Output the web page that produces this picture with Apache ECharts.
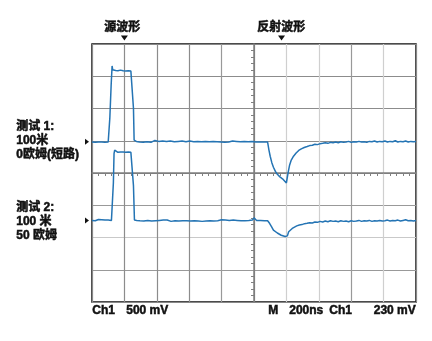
<!DOCTYPE html>
<html>
<head>
<meta charset="utf-8">
<script src="https://cdn.jsdelivr.net/npm/echarts@6/dist/echarts.min.js"></script>
<style>
  html, body { margin: 0; padding: 0; background: #fff; }
  #main { width: 432px; height: 341px; }
</style>
</head>
<body>
<div id="main"></div>
<script>
// screen divisions: x -5..5, y -4..4
const trace1 = [
  [-5.0, 0.96], [-4.95, 0.98], [-4.9, 0.95], [-4.85, 0.97], [-4.8, 0.96], [-4.75, 0.99], [-4.7, 0.96],
  [-4.65, 0.97], [-4.6, 0.95], [-4.55, 0.98], [-4.5, 0.96], [-4.48, 0.97],
  [-4.45, 1.7], [-4.41, 2.7], [-4.38, 3.32], [-4.36, 3.2], [-4.33, 3.22], [-4.3, 3.15], [-4.27, 3.18],
  [-4.24, 3.14], [-4.2, 3.17], [-4.16, 3.15], [-4.12, 3.19], [-4.08, 3.15], [-4.04, 3.17], [-4.0, 3.14],
  [-3.96, 3.16], [-3.92, 3.15], [-3.88, 3.17], [-3.84, 3.15], [-3.8, 3.16], [-3.76, 3.15], [-3.74, 3.16],
  [-3.72, 2.0], [-3.7, 1.02], [-3.67, 1.06], [-3.63, 0.98], [-3.58, 1.01], [-3.53, 0.96], [-3.48, 0.99],
  [-3.42, 0.95], [-3.36, 1.0], [-3.3, 0.97], [-3.24, 0.99], [-3.18, 0.95], [-3.12, 0.98], [-3.06, 1.01],
  [-3.0, 0.96], [-2.94, 0.98], [-2.88, 0.94], [-2.82, 0.99], [-2.76, 0.96], [-2.7, 0.98], [-2.64, 0.95],
  [-2.58, 0.99], [-2.52, 0.96], [-2.46, 0.97], [-2.4, 0.94], [-2.34, 0.98], [-2.28, 0.96], [-2.22, 0.99],
  [-2.16, 0.95], [-2.1, 0.97], [-2.04, 0.96], [-1.98, 0.99], [-1.92, 0.95], [-1.86, 0.97], [-1.8, 0.96],
  [-1.74, 0.98], [-1.68, 0.95], [-1.62, 0.97], [-1.56, 0.96], [-1.5, 0.98], [-1.44, 0.96], [-1.38, 0.97],
  [-1.32, 0.95], [-1.26, 0.98], [-1.2, 0.96], [-1.14, 0.97], [-1.08, 0.99], [-1.02, 0.96], [-0.96, 0.97],
  [-0.9, 0.95], [-0.84, 0.98], [-0.78, 0.96], [-0.72, 0.97], [-0.66, 0.99], [-0.6, 0.96], [-0.54, 0.98],
  [-0.48, 0.96], [-0.42, 0.97], [-0.36, 0.95], [-0.3, 0.98], [-0.24, 0.96], [-0.18, 0.97], [-0.12, 0.96],
  [-0.06, 0.98], [0.0, 0.97], [0.06, 0.96], [0.12, 0.98], [0.18, 0.96], [0.24, 0.97], [0.3, 0.96],
  [0.36, 0.97], [0.42, 0.96],
  [0.46, 0.72], [0.5, 0.52], [0.55, 0.32], [0.6, 0.18], [0.66, 0.05], [0.72, -0.04], [0.8, -0.12],
  [0.88, -0.18], [0.94, -0.24], [1.0, -0.31], [1.03, -0.28],
  [1.06, 0.05], [1.1, 0.25], [1.15, 0.4], [1.22, 0.52], [1.3, 0.62], [1.38, 0.7], [1.46, 0.75],
  [1.55, 0.79], [1.64, 0.82], [1.72, 0.85], [1.8, 0.86], [1.88, 0.89], [1.96, 0.88], [2.04, 0.91],
  [2.12, 0.92], [2.2, 0.94], [2.28, 0.92], [2.36, 0.95], [2.44, 0.94], [2.52, 0.96], [2.6, 0.94],
  [2.68, 0.97], [2.76, 0.95], [2.84, 0.96], [2.92, 0.98], [3.0, 0.95], [3.08, 0.97], [3.16, 0.96],
  [3.24, 0.98], [3.32, 0.96], [3.4, 0.97], [3.48, 0.95], [3.56, 0.98], [3.64, 0.97], [3.72, 0.99],
  [3.8, 0.96], [3.88, 0.98], [3.96, 0.97], [4.04, 0.99], [4.12, 0.96], [4.2, 0.98], [4.28, 0.97],
  [4.36, 1.0], [4.44, 0.96], [4.52, 0.98], [4.6, 0.97], [4.68, 0.99], [4.76, 0.96], [4.84, 0.98],
  [4.92, 0.97], [5.0, 0.98]
];

const trace2 = [
  [-5.0, -1.47], [-4.95, -1.45], [-4.9, -1.48], [-4.85, -1.46], [-4.8, -1.44], [-4.75, -1.47],
  [-4.7, -1.45], [-4.65, -1.48], [-4.6, -1.46], [-4.55, -1.49], [-4.5, -1.46], [-4.45, -1.48],
  [-4.4, -1.47], [-4.36, -1.48],
  [-4.34, -0.3], [-4.32, 0.6], [-4.3, 0.71], [-4.27, 0.65], [-4.24, 0.67], [-4.2, 0.64], [-4.16, 0.66],
  [-4.12, 0.65], [-4.08, 0.68], [-4.04, 0.65], [-4.0, 0.66], [-3.96, 0.64], [-3.92, 0.67], [-3.88, 0.65],
  [-3.84, 0.66], [-3.8, 0.64], [-3.76, 0.66], [-3.74, 0.65],
  [-3.72, -0.4], [-3.69, -1.46], [-3.66, -1.41], [-3.62, -1.47], [-3.57, -1.45], [-3.52, -1.48],
  [-3.46, -1.46], [-3.4, -1.49], [-3.34, -1.45], [-3.28, -1.47], [-3.22, -1.46], [-3.16, -1.49],
  [-3.1, -1.46], [-3.04, -1.48], [-2.98, -1.45], [-2.92, -1.47], [-2.86, -1.49], [-2.8, -1.46],
  [-2.74, -1.48], [-2.68, -1.46], [-2.62, -1.47], [-2.56, -1.5], [-2.5, -1.46], [-2.44, -1.48],
  [-2.38, -1.47], [-2.32, -1.49], [-2.26, -1.46], [-2.2, -1.48], [-2.14, -1.45], [-2.08, -1.48],
  [-2.02, -1.47], [-1.96, -1.49], [-1.9, -1.46], [-1.84, -1.48], [-1.78, -1.47], [-1.72, -1.49],
  [-1.66, -1.46], [-1.6, -1.5], [-1.54, -1.47], [-1.48, -1.49], [-1.42, -1.46], [-1.36, -1.48],
  [-1.3, -1.47], [-1.24, -1.49], [-1.18, -1.46], [-1.12, -1.48], [-1.06, -1.47], [-1.0, -1.45],
  [-0.94, -1.48], [-0.88, -1.46], [-0.82, -1.49], [-0.76, -1.47], [-0.7, -1.48], [-0.64, -1.46],
  [-0.58, -1.48], [-0.52, -1.47], [-0.46, -1.45], [-0.4, -1.48], [-0.34, -1.46], [-0.28, -1.48],
  [-0.22, -1.46], [-0.16, -1.47], [-0.1, -1.45], [-0.05, -1.46], [0.0, -1.39], [0.04, -1.43],
  [0.08, -1.47], [0.14, -1.45], [0.2, -1.47], [0.26, -1.46], [0.32, -1.48], [0.38, -1.46], [0.42, -1.48],
  [0.48, -1.56], [0.54, -1.66], [0.6, -1.77], [0.66, -1.83], [0.72, -1.86], [0.78, -1.9], [0.84, -1.93],
  [0.9, -1.95], [0.96, -1.97], [1.0, -2.0], [1.03, -1.95],
  [1.07, -1.82], [1.12, -1.76], [1.18, -1.72], [1.25, -1.68], [1.32, -1.64], [1.4, -1.61],
  [1.48, -1.6], [1.56, -1.57], [1.64, -1.56], [1.72, -1.54], [1.8, -1.55], [1.88, -1.52], [1.96, -1.53],
  [2.04, -1.5], [2.12, -1.52], [2.2, -1.49], [2.28, -1.51], [2.36, -1.48], [2.44, -1.5], [2.52, -1.49],
  [2.6, -1.51], [2.68, -1.48], [2.76, -1.5], [2.84, -1.49], [2.92, -1.51], [3.0, -1.48], [3.08, -1.5],
  [3.16, -1.49], [3.24, -1.47], [3.32, -1.5], [3.4, -1.48], [3.48, -1.49], [3.56, -1.47], [3.64, -1.5],
  [3.72, -1.48], [3.8, -1.49], [3.88, -1.47], [3.96, -1.49], [4.04, -1.48], [4.12, -1.46], [4.2, -1.49],
  [4.28, -1.47], [4.36, -1.48], [4.44, -1.46], [4.52, -1.49], [4.6, -1.47], [4.68, -1.45], [4.76, -1.48],
  [4.84, -1.47], [4.92, -1.49], [5.0, -1.47]
];

const test1Labels = ['测试 1:', '100米', '0欧姆(短路)'];
const test2Labels = ['测试 2:', '100 米', '50 欧姆'];
const markerLabels = ['源波形', '反射波形'];
const markerX = [-4.0, 0.85];
const groundLevels = [0.97, -1.47];
const footerLeft = ['Ch1', '500 mV'];
const footerRight = ['M', '200ns', 'Ch1', '230 mV'];

const chart = echarts.init(document.getElementById('main'));
const font = '"Liberation Sans", "Noto Sans CJK SC", sans-serif';
const traceColor = '#2474b4';

// grid line shades, like the scanned scope screen
const xLineColors = ['#888', '#8c8c8c', '#8c8c8c', '#8c8c8c', '#999', '#777', '#cfcfcf', '#cfcfcf', '#999', '#cfcfcf', '#888'];
const yLineColors = ['#888', '#999', '#c9c9c9', '#999', '#777', '#8c8c8c', '#8c8c8c', '#8c8c8c', '#888'];

function txt(t, pos) {
  return Object.assign({
    type: 'text',
    style: { text: t, font: 'bold 12px ' + font, fill: '#111', stroke: '#111', lineWidth: 0.5 }
  }, pos);
}

function textBlock(lines, x, y0, step) {
  return lines.map((t, i) => txt(t, { left: x, top: y0 + i * step }));
}

chart.setOption({
  animation: false,
  grid: {
    left: 92, top: 44, right: 16, bottom: 39,
    show: true, borderColor: '#111', borderWidth: 1.5
  },
  xAxis: {
    type: 'value', min: -5, max: 5, interval: 1,
    axisLabel: { show: false },
    axisLine: { show: true, onZero: true, lineStyle: { color: '#808080', width: 1.5 } },
    axisTick: { show: false },
    minorTick: { show: true, splitNumber: 5, length: 3, lineStyle: { color: '#808080' } },
    splitLine: { show: true, lineStyle: { color: xLineColors, width: 1.2 } }
  },
  yAxis: {
    type: 'value', min: -4, max: 4, interval: 1,
    axisLabel: { show: false },
    axisLine: { show: true, onZero: true, lineStyle: { color: '#808080', width: 1.5 } },
    axisTick: { show: false },
    minorTick: { show: true, splitNumber: 5, length: 3, lineStyle: { color: '#808080' } },
    splitLine: { show: true, lineStyle: { color: yLineColors, width: 1.2 } }
  },
  series: [
    {
      type: 'line', data: trace1, showSymbol: false, symbol: 'none',
      lineStyle: { color: traceColor, width: 1.5 },
      markPoint: {
        silent: true,
        label: { show: false },
        itemStyle: { color: '#111' },
        data: [
          { coord: [markerX[0], 4], symbol: 'triangle', symbolRotate: 180, symbolSize: [7, 5], symbolOffset: [0, -6] },
          { coord: [markerX[1], 4], symbol: 'triangle', symbolRotate: 180, symbolSize: [7, 5], symbolOffset: [0, -6] },
          { coord: [-5, groundLevels[0]], symbol: 'triangle', symbolRotate: -90, symbolSize: [6, 4], symbolOffset: [-5, 0] }
        ]
      }
    },
    {
      type: 'line', data: trace2, showSymbol: false, symbol: 'none',
      lineStyle: { color: traceColor, width: 1.5 },
      markPoint: {
        silent: true,
        label: { show: false },
        itemStyle: { color: '#111' },
        data: [
          { coord: [-5, groundLevels[1]], symbol: 'triangle', symbolRotate: -90, symbolSize: [6, 4], symbolOffset: [-5, 0] }
        ]
      }
    }
  ],
  graphic: [
    txt(markerLabels[0], { left: 104, top: 21 }),
    txt(markerLabels[1], { left: 257, top: 21 }),
    ...textBlock(test1Labels, 16, 120, 14.3),
    ...textBlock(test2Labels, 16, 201, 14.3),
    txt(footerLeft[0], { left: 92, top: 304 }),
    txt(footerLeft[1], { left: 126, top: 304 }),
    txt(footerRight[0], { left: 268, top: 304 }),
    txt(footerRight[1], { left: 289, top: 304 }),
    txt(footerRight[2], { left: 329, top: 304 }),
    txt(footerRight[3], { right: 16, top: 304 })
  ]
});
</script>
</body>
</html>
